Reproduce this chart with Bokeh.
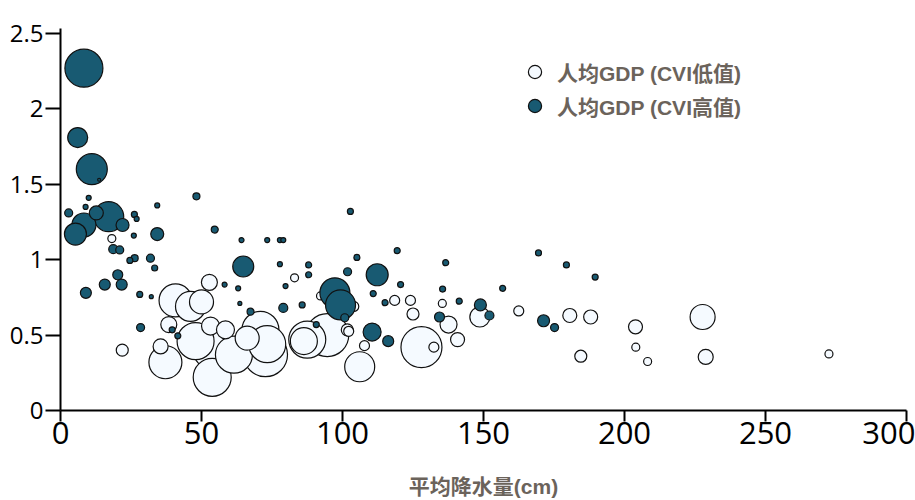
from bokeh.plotting import figure
from bokeh.models import ColumnDataSource, FixedTicker, Legend, LegendItem, Range1d
from bokeh.embed import file_html
from bokeh.resources import INLINE

# ---- data ----
low_x = [52.8, 40.8, 46.1, 50.0, 38.4, 35.5, 37.2, 47.9, 53.2, 58.5,
         53.8, 53.8, 61.5, 66.2, 70.9, 73.3, 72.7, 86.3, 87.5, 94.6,
         101.7, 83.0, 21.9, 18.2, 92.2, 104.0, 107.8, 106.1, 118.5, 124.1,
         125.0, 128.0, 132.4, 135.4, 137.6, 140.8, 148.7, 162.5, 180.6, 188.0,
         184.5, 203.9, 204.0, 208.2, 227.7, 228.8, 272.5, 102.2]
low_y = [0.85, 0.73, 0.69, 0.72, 0.57, 0.425, 0.32, 0.46, 0.56, 0.535,
         0.40, 0.22, 0.37, 0.48, 0.535, 0.44, 0.37, 0.46, 0.47, 0.50,
         0.535, 0.88, 0.40, 1.14, 0.76, 0.69, 0.43, 0.29, 0.73, 0.73,
         0.64, 0.42, 0.42, 0.71, 0.57, 0.47, 0.62, 0.66, 0.63, 0.62,
         0.36, 0.555, 0.42, 0.325, 0.62, 0.355, 0.375, 0.525]
low_val = [16, 33, 30, 24, 16, 15, 33, 37, 18, 18,
           38, 38, 37, 24, 37, 37, 44, 27, 37, 43,
           12, 8, 12, 8, 8, 10, 10, 30, 10, 10,
           12, 41, 10, 8, 17, 14, 20, 10, 14, 14,
           12, 14, 8, 8, 25, 15, 8, 10]

high_x = [8.3, 6.1, 11.1, 13.7, 2.9, 10.0, 8.9, 17.1, 12.7, 8.3,
          5.3, 22.0, 26.2, 27.0, 26.0, 34.3, 34.3, 48.2, 54.7, 64.2,
          73.3, 77.8, 79.0, 18.7, 21.0, 26.3, 24.6, 31.9, 33.4, 20.3,
          15.7, 21.7, 9.0, 28.1, 32.2, 28.4, 39.6, 41.6, 64.8, 58.2,
          63.0, 63.6, 67.4, 77.8, 79.8, 79.0, 102.8, 88.0, 88.0, 85.7,
          105.1, 119.4, 101.8, 112.3, 97.3, 99.3, 100.8, 110.9, 115.1, 120.6,
          90.7, 110.5, 116.2, 136.6, 135.5, 141.4, 134.4, 148.9, 152.1, 156.8,
          169.5, 179.4, 189.6, 171.3, 175.2]
high_y = [2.27, 1.81, 1.60, 1.53, 1.31, 1.41, 1.35, 1.285, 1.31, 1.23,
          1.17, 1.23, 1.30, 1.27, 1.16, 1.17, 1.36, 1.42, 1.20, 1.13,
          1.13, 1.13, 1.13, 1.07, 1.065, 1.01, 0.995, 1.01, 0.945, 0.90,
          0.835, 0.835, 0.78, 0.77, 0.755, 0.55, 0.535, 0.495, 0.955, 0.835,
          0.81, 0.71, 0.655, 0.97, 0.825, 0.68, 1.32, 0.965, 0.90, 0.70,
          1.015, 1.06, 0.92, 0.90, 0.78, 0.70, 0.615, 0.775, 0.715, 0.835,
          0.57, 0.52, 0.46, 0.98, 0.805, 0.725, 0.62, 0.70, 0.63, 0.81,
          1.045, 0.965, 0.885, 0.595, 0.55]
high_val = [38, 20, 31, 3, 8, 5, 5, 30, 14, 24,
            22, 13, 6, 5, 5, 13, 5, 7, 7, 5,
            5, 5, 5, 9, 8, 7, 6, 8, 6, 10,
            11, 11, 11, 6, 4, 8, 6, 6, 21, 5,
            5, 4, 7, 5, 5, 9, 6, 6, 6, 6,
            6, 6, 8, 22, 30, 30, 8, 6, 6, 6,
            6, 18, 11, 6, 6, 6, 10, 12, 9, 6,
            6, 6, 6, 12, 8]

x_ticks = [0, 50, 100, 150, 200, 250, 300]
x_tick_labels = ["0", "50", "100", "150", "200", "250", "300"]
y_ticks = [0, 0.5, 1, 1.5, 2, 2.5]
y_tick_labels = ["0", "0.5", "1", "1.5", "2", "2.5"]

series_names = ["人均GDP (CVI低值)", "人均GDP (CVI高值)"]
x_title = "平均降水量(cm)"

LOW_COLOR = "#f5faff"
HIGH_COLOR = "#185a72"
TEXT_COLOR = "#6b635b"
LABEL_FONT = "'Liberation Sans', 'Noto Sans CJK SC'"


def sorted_source(xs, ys, vs):
    order = sorted(range(len(vs)), key=lambda i: -vs[i])
    return ColumnDataSource(dict(
        x=[xs[i] for i in order],
        y=[ys[i] for i in order],
        v=[vs[i] for i in order],
    ))


p = figure(width=915, height=500, output_backend="svg", toolbar_location=None,
           x_range=Range1d(0, 300), y_range=Range1d(0, 2.533),
           min_border_left=60, min_border_right=9, min_border_top=28,
           min_border_bottom=89)
p.outline_line_color = None
p.xgrid.grid_line_color = None
p.ygrid.grid_line_color = None
p.background_fill_color = "white"

low_src = sorted_source(low_x, low_y, low_val)
high_src = sorted_source(high_x, high_y, high_val)

r_low = p.scatter("x", "y", size="v", source=low_src, fill_color=LOW_COLOR,
                  line_color="#111111", line_width=1.2)
r_high = p.scatter("x", "y", size="v", source=high_src, fill_color=HIGH_COLOR,
                   line_color="#111111", line_width=1.2)

legend = Legend(items=[LegendItem(label=series_names[0], renderers=[r_low]),
                       LegendItem(label=series_names[1], renderers=[r_high])],
                location=(458, 288), orientation="vertical",
                glyph_width=33, glyph_height=33, label_standoff=6, spacing=1,
                padding=0, margin=0, label_height=20,
                border_line_color=None, background_fill_alpha=0,
                label_text_font=LABEL_FONT,
                label_text_font_style="bold", label_text_font_size="21px",
                label_text_color=TEXT_COLOR)
p.add_layout(legend, "center")

# axes
xa = p.xaxis[0]
xa.ticker = FixedTicker(ticks=x_ticks)
xa.major_label_overrides = {t: l for t, l in zip(x_ticks, x_tick_labels)}
xa.minor_tick_line_color = None
xa.major_tick_in = 0
xa.major_tick_out = 11
xa.axis_line_width = 2
xa.major_tick_line_width = 2
xa.axis_line_color = "black"
xa.major_tick_line_color = "black"
xa.major_label_text_font = "Open Sans"
xa.major_label_text_font_size = "31px"
xa.major_label_text_color = "black"
xa.major_label_standoff = 0
xa.axis_label = x_title
xa.axis_label_text_font = LABEL_FONT
xa.axis_label_text_font_style = "bold"
xa.axis_label_text_font_size = "21px"
xa.axis_label_text_color = TEXT_COLOR
xa.axis_label_standoff = 28

ya = p.yaxis[0]
ya.ticker = FixedTicker(ticks=y_ticks)
ya.major_label_overrides = {t: l for t, l in zip(y_ticks, y_tick_labels)}
ya.minor_tick_line_color = None
ya.major_tick_in = 0
ya.major_tick_out = 15
ya.axis_line_width = 2
ya.major_tick_line_width = 2
ya.axis_line_color = "black"
ya.major_tick_line_color = "black"
ya.major_label_text_font = "Open Sans"
ya.major_label_text_font_size = "24px"
ya.major_label_text_color = "black"
ya.major_label_standoff = 2

open("out.html", "w").write(file_html(p, INLINE))
